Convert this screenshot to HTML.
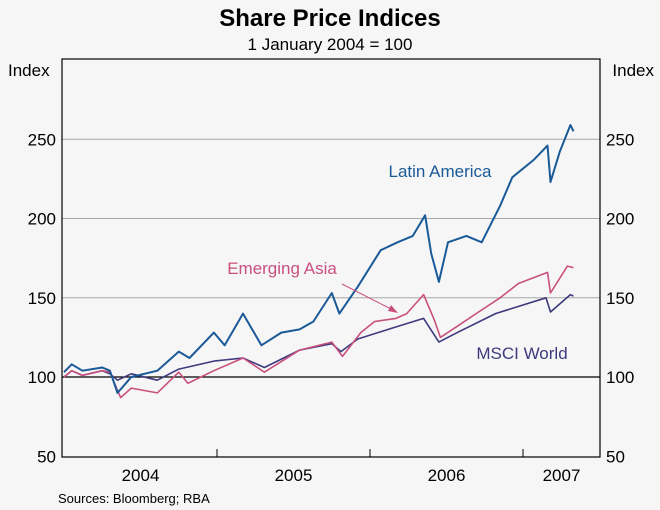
<!DOCTYPE html>
<html><head><meta charset="utf-8"><style>
body{margin:0;background:#fff;}
svg{display:block;font-family:"Liberation Sans",sans-serif;}
</style></head><body>
<svg id="c" width="660" height="510" viewBox="0 0 660 510">
<rect x="0" y="0" width="660" height="510" fill="#f6f6f6"/>
<text x="330" y="26" text-anchor="middle" font-size="24" font-weight="bold" fill="#000">Share Price Indices</text>
<text x="330" y="50" text-anchor="middle" font-size="17" fill="#000">1 January 2004 = 100</text>
<text x="8" y="76" font-size="17">Index</text>
<text x="654" y="76" font-size="17" text-anchor="end">Index</text>
<text x="58" y="503" font-size="13">Sources: Bloomberg; RBA</text>
<g id="grid"></g><g id="series"></g><g id="axes"></g>
<text x="440" y="177" text-anchor="middle" font-size="17" fill="#1b5a98">Latin America</text>
<text x="282" y="274" text-anchor="middle" font-size="17" fill="#c8507f">Emerging Asia</text>
<line x1="342" y1="284" x2="393" y2="310" stroke="#c8507f" stroke-width="1"/>
<polygon points="398,313 388,311 391,305" fill="#c8507f"/>
<text x="522" y="359" text-anchor="middle" font-size="17" fill="#3e3a7e">MSCI World</text>
</svg>
<script>
const yTicks=[50,100,150,200,250];
const xYears=[2004,2005,2006,2007];
const latT=[0,0.05,0.12,0.25,0.30,0.35,0.44,0.61,0.75,0.82,0.98,1.05,1.17,1.29,1.42,1.54,1.63,1.75,1.80,1.92,2.07,2.18,2.28,2.36,2.40,2.45,2.51,2.63,2.73,2.85,2.93,3.07,3.16,3.18,3.24,3.31,3.33];
const latV=[103,108,104,106,104,90,100,104,116,112,128,120,140,120,128,130,135,153,140,157,180,185,189,202,178,160,185,189,185,208,226,237,246,223,242,259,255];
const asiaT=[0,0.05,0.12,0.25,0.30,0.37,0.44,0.61,0.75,0.81,0.98,1.17,1.31,1.54,1.75,1.82,1.94,2.03,2.17,2.24,2.35,2.42,2.46,2.57,2.71,2.85,2.97,3.16,3.18,3.29,3.33];
const asiaV=[100,104,101,104,103,87,93,90,103,96,104,112,103,117,122,113,128,135,137,140,152,136,125,132,141,150,159,166,153,170,169];
const msciT=[0,0.05,0.12,0.25,0.30,0.35,0.44,0.61,0.75,0.98,1.17,1.31,1.54,1.75,1.81,1.92,2.15,2.35,2.45,2.57,2.82,3.15,3.18,3.31,3.33];
const msciV=[100,104,101,104,102,98,102,98,105,110,112,106,117,121,116,124,131,137,122,128,140,150,141,152,151];
const X0=62,X1=600,Y0=59,Y1=457;
const xs=t=>64+t*153;
const ys=v=>377-(v-100)*1.585;
const NS="http://www.w3.org/2000/svg";
function mk(tag,attrs,parent){const e=document.createElementNS(NS,tag);for(const k in attrs)e.setAttribute(k,attrs[k]);document.getElementById(parent).appendChild(e);return e;}
mk('rect',{x:X0,y:Y0,width:X1-X0,height:Y1-Y0,fill:'#f6f6f6'},'grid');
yTicks.forEach(v=>{
  if(v>50){const l=mk('line',{x1:X0,x2:X1,y1:ys(v),y2:ys(v),stroke:v===100?'#000':'#a8a8a8','stroke-width':v===100?1.2:1},'grid');
  
  }
  const a=mk('text',{x:X0-6,y:ys(v)+6,'text-anchor':'end','font-size':17},'axes');a.textContent=v;
  
  
  const b=mk('text',{x:X1+6,y:ys(v)+6,'font-size':17},'axes');b.textContent=v;
  
  
});
function series(T,V,col,w,name){
  const d=T.map((t,i)=>(i?'L':'M')+xs(t).toFixed(1)+','+ys(V[i]).toFixed(1)).join('');
  const p=mk('path',{d:d,fill:'none',stroke:col,'stroke-width':w,'stroke-linejoin':'round'},'series');
  
  
}
series(msciT,msciV,'#3e3a7e',1.6,'msci-world-line');
series(asiaT,asiaV,'#c8507f',1.6,'emerging-asia-line');
series(latT,latV,'#1b5a98',2,'latin-america-line');
const fr=mk('rect',{x:X0,y:Y0,width:X1-X0,height:Y1-Y0,fill:'none',stroke:'#000','stroke-width':1.2},'axes');


xYears.forEach((yr,i)=>{
  const t0=yr-2004, mid=Math.min(t0+0.5,(t0+(X1-64)/153)/2+0.0);
  const cx=i<3?xs(t0+0.5):(xs(t0)+X1)/2;
  const tx=mk('text',{x:cx,y:Y1+24,'text-anchor':'middle','font-size':17},'axes');tx.textContent=yr;
  
  
  if(i>0){const tk=mk('line',{x1:xs(t0),x2:xs(t0),y1:Y1-8,y2:Y1,stroke:'#000'},'axes');
  
  }
});
</script>
</body></html>
